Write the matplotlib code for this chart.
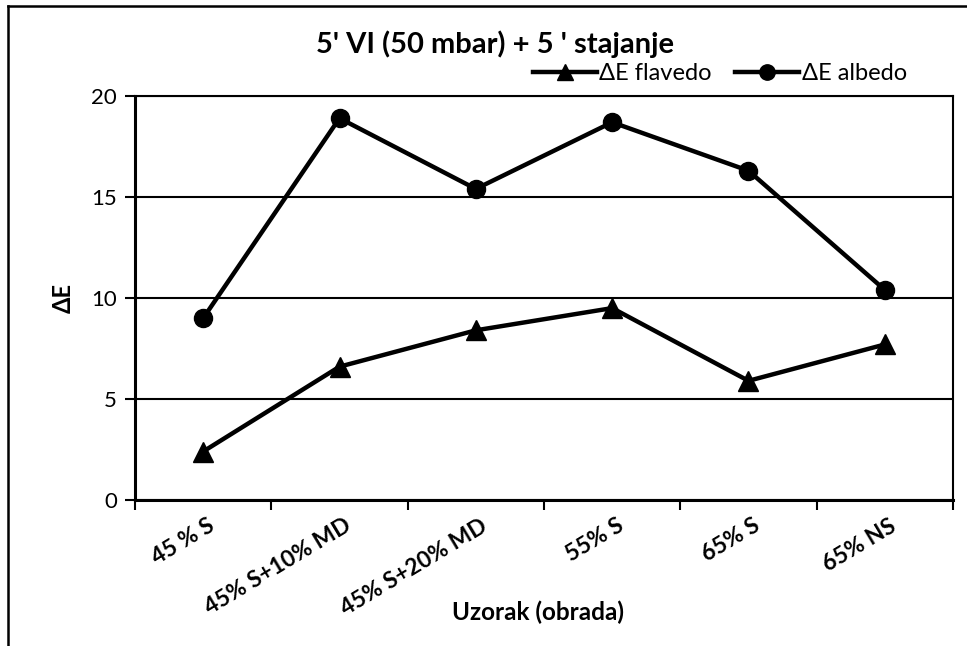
import matplotlib.pyplot as plt
from matplotlib.lines import Line2D

# data
categories = ['45 % S', '45% S+10% MD', '45% S+20% MD', '55% S', '65% S', '65% NS']
flavedo = [2.4, 6.6, 8.4, 9.5, 5.9, 7.7]
albedo = [9.0, 18.9, 15.4, 18.7, 16.3, 10.4]

plt.rcParams['font.family'] = ['Lato', 'DejaVu Sans']

fig = plt.figure(figsize=(9.67, 6.46), dpi=100)
ax = fig.add_axes([135/967, 1-500/646, (953-135)/967, (500-96)/646])

x = list(range(len(categories)))
ax.plot(x, flavedo, color='black', lw=3.2, marker='^', ms=14, label='ΔE flavedo')
ax.plot(x, albedo, color='black', lw=3.2, marker='o', ms=13, label='ΔE albedo')

ax.set_xlim(-0.5, len(categories) - 0.5)
ax.set_ylim(0, 20)
ax.set_yticks([0, 5, 10, 15, 20])
ax.yaxis.grid(True, color='black', lw=1.5)
ax.set_axisbelow(True)

# category ticks sit between groups, like excel
ax.set_xticks([i - 0.5 for i in range(len(categories) + 1)])
ax.set_xticklabels([])
ax.tick_params(axis='x', length=7, width=1.5, direction='out')
ax.tick_params(axis='y', length=7, width=1.5, direction='out', labelsize=16, pad=6)
for i, lab in enumerate(categories):
    ax.text(i + 0.03, -0.75, lab, rotation=31, ha='right', va='top',
            rotation_mode='anchor', fontsize=16.5, fontweight='bold')

for s in ax.spines.values():
    s.set_linewidth(1.5)
ax.spines['left'].set_linewidth(2.2)
ax.spines['bottom'].set_linewidth(2.2)

ax.set_ylabel('ΔE', fontsize=17, fontweight='bold', labelpad=12)
fig.text(538/967, 1-612/646, 'Uzorak (obrada)', ha='center', va='center',
         fontsize=17.5, fontweight='bold')
fig.text(495/967, 1-44/646, "5' VI (50 mbar) + 5 ' stajanje", ha='center', va='center',
         fontsize=21, fontweight='bold')

fig.legend(loc='center', bbox_to_anchor=(720/967, 1-74/646), ncol=2, frameon=False,
           fontsize=17, handlelength=2.7, handletextpad=0.1, columnspacing=1.0,
           markerscale=0.85)

# outer chart frame (partly cropped in the original)
fig.add_artist(Line2D([8/967, 8/967], [0, 1-6/646], color='black', lw=1.8))
fig.add_artist(Line2D([8/967, 1], [1-6/646, 1-6/646], color='black', lw=1.8))

fig.savefig('out.png', dpi=100)
